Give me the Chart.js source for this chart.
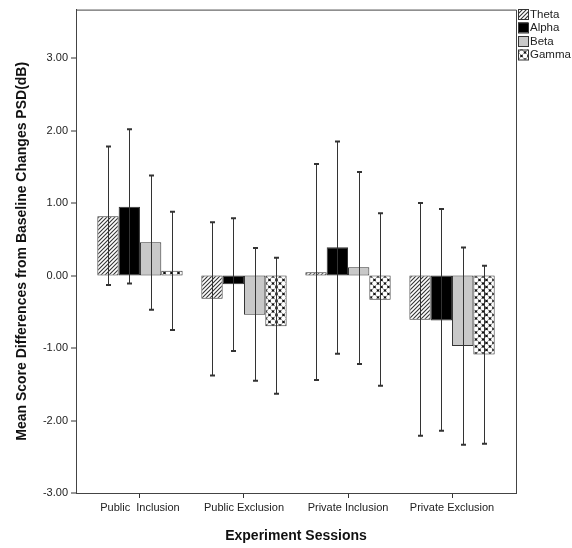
<!DOCTYPE html>
<html>
<head>
<meta charset="utf-8">
<script src="https://cdn.jsdelivr.net/npm/chart.js@4.4.0/dist/chart.umd.min.js"></script>
<style>
  html, body { margin: 0; padding: 0; background: #fff; }
  #wrap { width: 572px; height: 548px; }
</style>
</head>
<body>
<div id="wrap"><canvas id="psdChart" width="572" height="548"></canvas></div>
<script>
const sessions = ['Public  Inclusion', 'Public Exclusion', 'Private Inclusion', 'Private Exclusion'];
const bands = ['Theta', 'Alpha', 'Beta', 'Gamma'];

// mean values per band, one entry per session
const thetaMean = [0.82, -0.32, 0.045, -0.61];
const alphaMean = [0.95, -0.12, 0.39, -0.62];
const betaMean = [0.46, -0.54, 0.115, -0.97];
const gammaMean = [0.065, -0.70, -0.335, -1.09];

// error bar ends
const thetaHigh = [1.78, 0.735, 1.54, 1.00];
const thetaLow = [-0.13, -1.38, -1.44, -2.21];
const alphaHigh = [2.02, 0.79, 1.85, 0.92];
const alphaLow = [-0.11, -1.04, -1.08, -2.14];
const betaHigh = [1.38, 0.38, 1.43, 0.386];
const betaLow = [-0.47, -1.45, -1.22, -2.335];
const gammaHigh = [0.88, 0.245, 0.86, 0.134];
const gammaLow = [-0.75, -1.63, -1.52, -2.32];

const yTicks = [-3, -2, -1, 0, 1, 2, 3];

function hatchPattern() {
    const c = document.createElement('canvas');
    c.width = 4; c.height = 4;
    const g = c.getContext('2d');
    g.fillStyle = '#fff';
    g.fillRect(0, 0, 4, 4);
    g.strokeStyle = '#333';
    g.lineWidth = 1.1;
    g.beginPath();
    g.moveTo(-1, 5); g.lineTo(5, -1);
    g.moveTo(-1, 1); g.lineTo(1, -1);
    g.moveTo(3, 5); g.lineTo(5, 3);
    g.stroke();
    return g.createPattern(c, 'repeat');
}

function circlePattern() {
    const c = document.createElement('canvas');
    c.width = 7; c.height = 7;
    const g = c.getContext('2d');
    g.fillStyle = '#111';
    g.fillRect(0, 0, 7, 7);
    g.fillStyle = '#fff';
    [[3.5, 3.5], [0, 0], [7, 0], [0, 7], [7, 7]].forEach(p => {
        g.beginPath();
        g.arc(p[0], p[1], 2.4, 0, Math.PI * 2);
        g.fill();
    });
    return g.createPattern(c, 'repeat');
}

const fills = [hatchPattern(), '#000000', '#c8c8c8', circlePattern()];
const means = [thetaMean, alphaMean, betaMean, gammaMean];
const highs = [thetaHigh, alphaHigh, betaHigh, gammaHigh];
const lows = [thetaLow, alphaLow, betaLow, gammaLow];

const errorBars = {
    id: 'errorBars',
    afterDatasetsDraw(chart) {
        const ctx = chart.ctx;
        const y = chart.scales.y;
        ctx.save();
        ctx.strokeStyle = '#333';
        chart.data.datasets.forEach((ds, di) => {
            chart.getDatasetMeta(di).data.forEach((bar, i) => {
                const x = Math.round(bar.x) + 0.5;
                const top = y.getPixelForValue(highs[di][i]);
                const bot = y.getPixelForValue(lows[di][i]);
                ctx.lineWidth = 1;
                ctx.beginPath();
                ctx.moveTo(x, top); ctx.lineTo(x, bot);
                ctx.stroke();
                ctx.lineWidth = 2;
                ctx.beginPath();
                ctx.moveTo(x - 2.5, top); ctx.lineTo(x + 2.5, top);
                ctx.moveTo(x - 2.5, bot); ctx.lineTo(x + 2.5, bot);
                ctx.stroke();
            });
        });
        ctx.restore();
    }
};

const frameAndLegend = {
    id: 'frameAndLegend',
    afterDraw(chart) {
        const ctx = chart.ctx;
        const a = chart.chartArea;
        ctx.save();
        ctx.strokeStyle = '#444';
        ctx.lineWidth = 1;
        ctx.beginPath();
        ctx.moveTo(a.left, a.top + 0.5); ctx.lineTo(a.right + 0.5, a.top + 0.5);
        ctx.lineTo(a.right + 0.5, a.bottom);
        ctx.stroke();
        // legend
        ctx.font = '11.5px "Liberation Sans", Arial, sans-serif';
        ctx.textBaseline = 'middle';
        chart.data.datasets.forEach((ds, i) => {
            const ly = 14 + i * 13.5;
            const lx = a.right + 2;
            ctx.fillStyle = ds.backgroundColor;
            ctx.fillRect(lx, ly - 5, 10, 10);
            ctx.strokeStyle = '#333';
            ctx.strokeRect(lx + 0.5, ly - 4.5, 10, 10);
            ctx.fillStyle = '#222';
            ctx.fillText(ds.label, lx + 12, ly + 0.5);
        });
        ctx.restore();
    }
};

new Chart(document.getElementById('psdChart'), {
    type: 'bar',
    data: {
        datasets: bands.map((name, di) => ({
            label: name,
            data: means[di].map((v, i) => ({ x: i, y: v })),
            backgroundColor: fills[di],
            borderColor: '#333',
            borderWidth: 1,
            borderSkipped: false,
            categoryPercentage: 0.82,
            barPercentage: 1.0
        }))
    },
    options: {
        responsive: false,
        animation: false,
        layout: { padding: { top: 8, right: 56, left: 0, bottom: 0 } },
        plugins: {
            legend: { display: false },
            tooltip: { enabled: false }
        },
        scales: {
            x: {
                type: 'linear',
                min: -0.615,
                max: 3.615,
                offset: false,
                afterBuildTicks: (s) => { s.ticks = sessions.map((_, i) => ({ value: i })); },
                afterFit: (s) => { s.height = 55; },
                grid: { display: true, drawOnChartArea: false, offset: false, tickLength: 5, color: '#333' },
                border: { display: true, color: '#444' },
                ticks: {
                    autoSkip: false,
                    maxRotation: 0,
                    padding: 3,
                    color: '#222',
                    font: { family: '"Liberation Sans", Arial, sans-serif', size: 11 },
                    callback: (v) => sessions[v]
                },
                title: {
                    display: true,
                    text: 'Experiment Sessions',
                    color: '#111',
                    padding: { top: 4, bottom: 3 },
                    font: { family: '"Liberation Sans", Arial, sans-serif', size: 14, weight: 'bold' }
                }
            },
            y: {
                min: -3,
                max: 3.67,
                afterBuildTicks: (s) => { s.ticks = yTicks.map(v => ({ value: v })); },
                afterFit: (s) => { s.width = 76; },
                grid: { display: true, drawOnChartArea: false, lineWidth: 0, tickWidth: 1, tickLength: 5, color: '#333', tickColor: '#333' },
                border: { display: true, color: '#444' },
                ticks: {
                    padding: 3,
                    color: '#222',
                    font: { family: '"Liberation Sans", Arial, sans-serif', size: 11 },
                    callback: (v) => v.toFixed(2)
                },
                title: {
                    display: true,
                    text: 'Mean Score Differences from Baseline Changes PSD(dB)',
                    color: '#111',
                    padding: { top: 14, bottom: 0 },
                    font: { family: '"Liberation Sans", Arial, sans-serif', size: 14, weight: 'bold' }
                }
            }
        }
    },
    plugins: [errorBars, frameAndLegend]
});
</script>
</body>
</html>
